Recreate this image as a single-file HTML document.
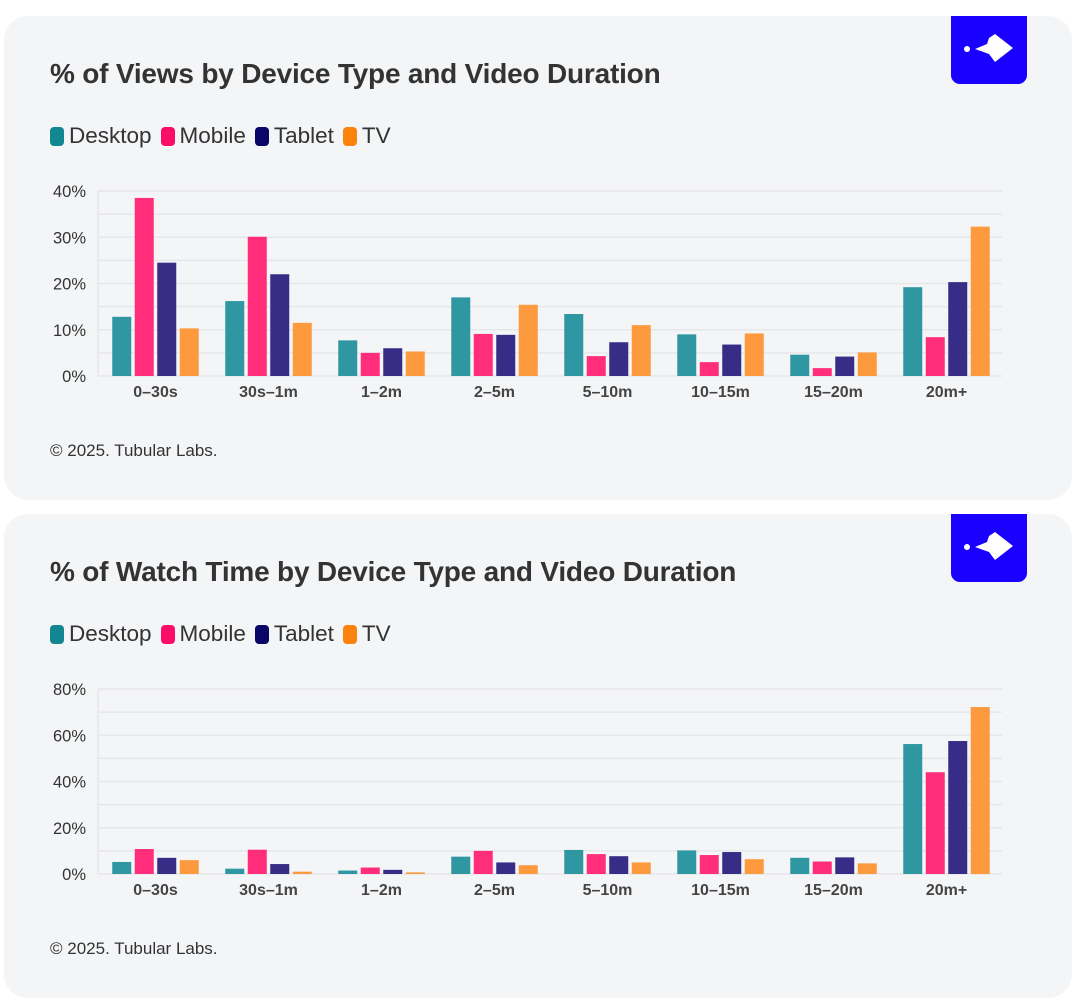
<!DOCTYPE html>
<html><head><meta charset="utf-8">
<style>
body{margin:0;background:#fff;width:1078px;height:1002px;overflow:hidden;font-family:"Liberation Sans",sans-serif;}
.panel{position:absolute;left:4px;width:1068px;height:484px;background:#f4f5f7;border-radius:24px;}
.title{position:absolute;left:46px;top:42px;font-size:28px;font-weight:bold;color:#333;letter-spacing:-0.2px}
.legend{position:absolute;left:46px;top:107px;font-size:22.5px;color:#333;display:flex;gap:9px;align-items:center}
.legend span{display:flex;align-items:center;gap:5px}
.legend i{display:inline-block;width:14px;height:19px;border-radius:4px}
.copy{position:absolute;left:46px;top:425px;font-size:17px;color:#333}
.logo{position:absolute;left:947px;top:0;width:76px;height:68px;background:#1a00ff;border-radius:0 0 9px 9px}
svg.chart{position:absolute;left:0;top:0}
</style></head><body>
<div class="panel" id="p1" style="top:16px">
 <div class="logo"><svg width="76" height="68"><circle cx="16" cy="33" r="3" fill="#fff"/><path d="M24 33 L36 28 L38 22 L44 18 L62 32 L44 46 L38 38 Z" fill="#fff"/></svg></div>
 <div class="title">% of Views by Device Type and Video Duration</div>
 <div class="legend"><span><i style="background:#138791"></i>Desktop</span><span><i style="background:#fb0e6a"></i>Mobile</span><span><i style="background:#0a0668"></i>Tablet</span><span><i style="background:#fb820c"></i>TV</span></div>
 <svg class="chart" id="c1" width="1068" height="484"></svg>
 <div class="copy">© 2025. Tubular Labs.</div>
</div>
<div class="panel" id="p2" style="top:514px">
 <div class="logo"><svg width="76" height="68"><circle cx="16" cy="33" r="3" fill="#fff"/><path d="M24 33 L36 28 L38 22 L44 18 L62 32 L44 46 L38 38 Z" fill="#fff"/></svg></div>
 <div class="title">% of Watch Time by Device Type and Video Duration</div>
 <div class="legend"><span><i style="background:#138791"></i>Desktop</span><span><i style="background:#fb0e6a"></i>Mobile</span><span><i style="background:#0a0668"></i>Tablet</span><span><i style="background:#fb820c"></i>TV</span></div>
 <svg class="chart" id="c2" width="1068" height="484"></svg>
 <div class="copy">© 2025. Tubular Labs.</div>
</div>
<script>
const categories=["0–30s","30s–1m","1–2m","2–5m","5–10m","10–15m","15–20m","20m+"];
const seriesNames=["desktop","mobile","tablet","tv"];
const colors=["#2e97a1","#ff2d7a","#372d86","#fd9a3e"];
const viewsDesktop=[12.8,16.2,7.7,17,13.4,9,4.6,19.2];
const viewsMobile=[38.5,30.1,5,9.1,4.3,3,1.7,8.4];
const viewsTablet=[24.5,22,6,8.9,7.3,6.8,4.2,20.3];
const viewsTV=[10.3,11.5,5.3,15.4,11,9.2,5.1,32.3];
const viewsTicks=[0,10,20,30,40];
const watchDesktop=[5.2,2.3,1.5,7.5,10.4,10.2,7,56.2];
const watchMobile=[10.8,10.5,2.8,10,8.6,8.2,5.4,44];
const watchTablet=[7,4.3,1.8,5,7.7,9.5,7.2,57.5];
const watchTV=[6,1,0.7,3.8,5,6.4,4.6,72.2];
const watchTicks=[0,20,40,60,80];
const NS="http://www.w3.org/2000/svg";
function el(svg,tag,attrs){const e=document.createElementNS(NS,tag);for(const k in attrs)e.setAttribute(k,attrs[k]);svg.appendChild(e);return e;}
function draw(id,series,ticks,minorStep){
 const svg=document.getElementById(id);
 const y0=360,yTop=175,maxV=ticks[ticks.length-1];
 const y=v=>y0-(v/maxV)*(y0-yTop);
 const xL=94,xR=998,gw=(xR-xL)/categories.length;
 const x=i=>xL+gw*i;
 for(let v=0;v<=maxV;v+=minorStep){
  const g=el(svg,'line',{x1:xL,x2:xR,y1:y(v),y2:y(v),stroke:'#e6e7ea','stroke-width':1.5});
  
  
 }
 const ax=el(svg,'line',{x1:xL,x2:xL,y1:yTop,y2:y0,stroke:'#e6e7ea','stroke-width':1.5});
 
 
 ticks.forEach(t=>{
  const tx=el(svg,'text',{x:82,y:y(t)+6,'text-anchor':'end','font-size':16.5,fill:'#333','font-family':'Liberation Sans, sans-serif'});
  tx.textContent=t+'%';
  
  
 });
 const bw=19,st=22.5;
 categories.forEach((c,i)=>{
  const cx=x(i)+gw/2+1;
  series.forEach((s,j)=>{
   const bx=cx-2*st+j*st+(st-bw)/2;
   const r=el(svg,'rect',{x:bx,y:y(s[i]),width:bw,height:y0-y(s[i]),fill:colors[j]});
   
   
  });
  const lt=el(svg,'text',{x:cx,y:y0+21,'text-anchor':'middle','font-size':16,'font-weight':'bold',fill:'#444','font-family':'Liberation Sans, sans-serif'});
  lt.textContent=c;
  
  
 });
}
draw('c1',[viewsDesktop,viewsMobile,viewsTablet,viewsTV],viewsTicks,5);
draw('c2',[watchDesktop,watchMobile,watchTablet,watchTV],watchTicks,10);
</script>
</body></html>
